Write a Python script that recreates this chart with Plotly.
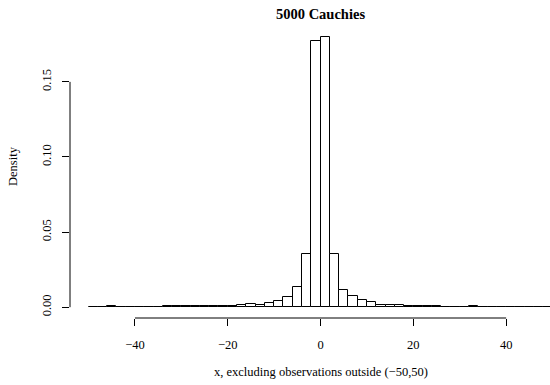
import numpy as np
import plotly.graph_objects as go

# histogram bin edges (width 2, from -50 to 50)
bin_start = -50
bin_width = 2
# density per bin (left to right)
density = [
    0.0002, 0.0003, 0.0005, 0.0002, 0.0002,   # -50 .. -40
    0.0003, 0.0002, 0.0004, 0.0006, 0.0007,   # -40 .. -30
    0.0008, 0.0007, 0.0008, 0.0005, 0.0008,   # -30 .. -20
    0.0008, 0.0013, 0.0020, 0.0015, 0.0028,   # -20 .. -10
    0.0042, 0.0068, 0.0133, 0.0353, 0.1773,   # -10 .. 0
    0.1800, 0.0353, 0.0114, 0.0072, 0.0046,   # 0 .. 10
    0.0032, 0.0017, 0.0012, 0.0012, 0.0005,   # 10 .. 20
    0.0005, 0.0009, 0.0005, 0.0004, 0.0004,   # 20 .. 30
    0.0003, 0.0007, 0.0004, 0.0002, 0.0002,   # 30 .. 40
    0.0004, 0.0002, 0.0003, 0.0002, 0.0002,   # 40 .. 50
]
x_ticks = [-40, -20, 0, 20, 40]
x_tick_labels = ["\u221240", "\u221220", "0", "20", "40"]
y_ticks = [0.00, 0.05, 0.10, 0.15]
y_tick_labels = ["0.00", "0.05", "0.10", "0.15"]

title = "5000 Cauchies"
x_title = "x, excluding observations outside (\u221250,50)"
y_title = "Density"

n_bins = len(density)
centers = [bin_start + bin_width * (i + 0.5) for i in range(n_bins)]

W, H = 550, 385
ml, mr, mt, mb = 70, 0, 26, 67
plot_w = W - ml - mr
plot_h = H - mt - mb

x_lo = -54
px_per_unit = 4.64
x_hi = x_lo + plot_w / px_per_unit
y_lo, y_hi = -0.0072, 0.1872

font = dict(family="Liberation Serif, Times New Roman, serif", size=12.5, color="black")

fig = go.Figure()
fig.add_trace(go.Bar(
    x=centers, y=density, width=bin_width,
    marker=dict(color="white", line=dict(color="black", width=1)),
    hoverinfo="skip",
))

fig.update_layout(
    width=W, height=H,
    margin=dict(l=ml, r=mr, t=mt, b=mb, pad=0),
    plot_bgcolor="white", paper_bgcolor="white",
    showlegend=False,
    font=font,
    bargap=0,
    xaxis=dict(range=[x_lo, x_hi], tickvals=x_ticks, ticktext=x_tick_labels,
               ticks="outside", ticklen=7, tickcolor="black", tickwidth=1,
               showgrid=False, zeroline=False, showline=False,
               ticklabelstandoff=8, tickfont=font),
    yaxis=dict(range=[y_lo, y_hi], tickvals=y_ticks, ticktext=y_tick_labels,
               ticks="outside", ticklen=7, tickcolor="black", tickwidth=1,
               showgrid=False, zeroline=False, showline=False,
               tickangle=-90, ticklabelstandoff=6, tickfont=font),
)

# R-style axis lines spanning only the tick range
fig.add_shape(type="line", xref="x", yref="paper",
              x0=min(x_ticks), x1=max(x_ticks), y0=0, y1=0,
              line=dict(color="black", width=1))
fig.add_shape(type="line", xref="paper", yref="y",
              x0=0, x1=0, y0=min(y_ticks), y1=max(y_ticks),
              line=dict(color="black", width=1))

# title and axis titles
fig.add_annotation(text="<b>" + title + "</b>", xref="paper", yref="paper",
                   x=(320.5 - ml) / plot_w, y=1 + 12 / plot_h,
                   xanchor="center", yanchor="middle", showarrow=False,
                   font=dict(family=font["family"], size=14.5, color="black"))
fig.add_annotation(text=x_title, xref="paper", yref="paper",
                   x=(320.5 - ml) / plot_w, y=-(372 - (H - mb)) / plot_h,
                   xanchor="center", yanchor="middle", showarrow=False, font=font)
fig.add_annotation(text=y_title, xref="paper", yref="paper",
                   x=-(ml - 13) / plot_w, y=(H - mb - 166) / plot_h,
                   xanchor="center", yanchor="middle", showarrow=False,
                   textangle=-90, font=font)

fig.write_html("out.html")
